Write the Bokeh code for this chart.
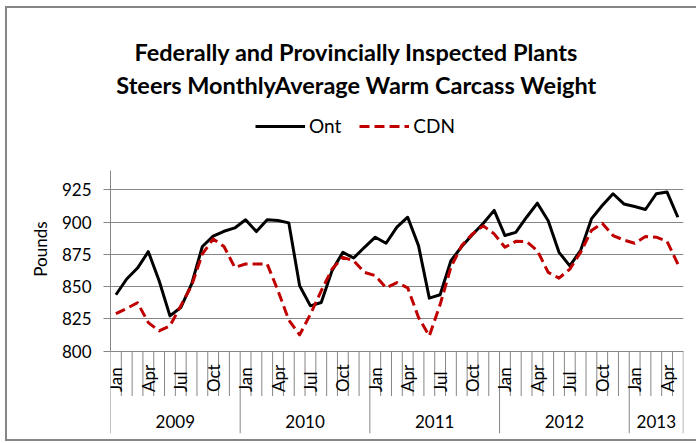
import math
from bokeh.plotting import figure
from bokeh.models import Range1d, FixedTicker, Label, Legend, LegendItem
from bokeh.embed import file_html
from bokeh.resources import INLINE
from bokeh.core.properties import value

# ---------------- data ----------------
title_lines = ["Federally and Provincially Inspected Plants",
               "Steers MonthlyAverage Warm Carcass Weight"]
years = [2009, 2010, 2011, 2012, 2013]
months_per_year = [12, 12, 12, 12, 5]
month_names = ["Jan", "Feb", "Mar", "Apr", "May", "Jun",
               "Jul", "Aug", "Sep", "Oct", "Nov", "Dec"]
shown_months = ["Jan", "Apr", "Jul", "Oct"]
series_names = ["Ont", "CDN"]
ont = [843.6, 855.8, 864.3, 877.0, 854.5, 827.2, 833.7, 851.9, 881.0, 889.0, 892.8, 895.4,
       901.7, 892.6, 901.7, 901.1, 899.3, 850.6, 835.0, 837.6, 862.3, 876.5, 872.1, 880.4,
       888.2, 883.5, 896.0, 903.7, 881.7, 841.0, 843.6, 870.0, 881.0, 890.3, 899.0, 909.0,
       889.5, 892.0, 903.7, 914.6, 901.0, 876.5, 866.0, 878.0, 902.4, 912.8, 921.9, 914.0,
       912.0, 909.7, 921.9, 923.2, 903.7]
cdn = [829.0, 833.0, 837.4, 822.0, 815.6, 819.5, 835.0, 850.6, 875.2, 886.9, 881.0, 864.8,
       867.4, 867.4, 867.4, 846.7, 824.0, 812.5, 828.5, 846.7, 863.5, 872.6, 870.0, 861.0,
       858.4, 849.0, 853.0, 849.0, 826.0, 811.7, 836.0, 865.0, 881.7, 890.8, 897.0, 890.8,
       880.4, 885.0, 884.8, 877.8, 861.0, 856.5, 863.5, 876.5, 893.4, 899.0, 889.5, 886.0,
       883.5, 888.7, 888.2, 885.0, 867.4]
y_ticks = [800, 825, 850, 875, 900, 925]
y_axis_top = 940
y_label = "Pounds"

# ---------------- derived ----------------
months = []
for n in months_per_year:
    months += month_names[:n]
xs = list(range(len(ont)))

FONT = "Lato"
GRAY = "#868686"
RED = "#C00000"

PPU = 1.29                      # pixels per pound
base = y_ticks[0]
y_min = base - 82.5 / PPU       # frame bottom (category axis area)
y_max = base + 350.5 / PPU      # frame top (canvas top)
x_lo, x_hi = -0.5, len(xs) - 0.48

p = figure(width=696, height=443, output_backend="svg", toolbar_location=None,
           x_range=Range1d(x_lo, x_hi), y_range=Range1d(y_min, y_max),
           x_axis_location=None, y_axis_location="left",
           min_border_left=110, min_border_right=13, min_border_top=0, min_border_bottom=10)
p.outline_line_color = None
p.background_fill_alpha = 0
p.border_fill_alpha = 0
p.styles = {"box-shadow": ("inset 5px 0 0 0 #ffffff, inset 0 6px 0 0 #ffffff, "
                           "inset 0 -2px 0 0 #ffffff, inset 7px 0 0 0 #868686, "
                           "inset 0 8px 0 0 #868686, inset 0 -4px 0 0 #868686"),
            "background": "#ffffff"}

for g in p.xgrid:
    g.visible = False
p.ygrid.ticker = FixedTicker(ticks=y_ticks)
p.ygrid.grid_line_color = GRAY
p.ygrid.grid_line_width = 1

ax = p.yaxis[0]
ax.ticker = FixedTicker(ticks=y_ticks)
ax.bounds = (base, y_axis_top)
ax.axis_line_color = GRAY
ax.major_tick_line_color = GRAY
ax.major_tick_in = 0
ax.major_tick_out = 7
ax.minor_tick_in = 0
ax.minor_tick_out = 0
ax.major_label_standoff = 12
ax.major_label_text_font = FONT
ax.major_label_text_font_size = "17px"
ax.major_label_text_color = "black"
# trailing spaces centre the visible word on the plot area (label is centred on the full frame)
ax.axis_label = y_label + "\u2003" * 4 + "\u00a0" * 3
ax.axis_label_text_font = FONT
ax.axis_label_text_font_size = "17px"
ax.axis_label_text_font_style = "normal"
ax.axis_label_text_color = "black"
ax.axis_label_standoff = 8

# ---------- category axis drawn from the data ----------
short_end = base - 45 / PPU
boundaries = [k - 0.5 for k in range(len(xs) + 1)]
year_bounds = [0]
for n in months_per_year:
    year_bounds.append(year_bounds[-1] + n)
year_edges = [b - 0.5 for b in year_bounds]
sb = [b for b in boundaries if b not in year_edges]
p.segment(x0=sb, y0=[base] * len(sb), x1=sb, y1=[short_end] * len(sb),
          line_color=GRAY, line_width=1)
p.segment(x0=year_edges, y0=[base] * len(year_edges), x1=year_edges,
          y1=[y_min] * len(year_edges), line_color=GRAY, line_width=1)

lab_x = [i for i, m in enumerate(months) if m in shown_months]
lab_t = [months[i] for i in lab_x]
p.text(x=lab_x, y=[base - 41 / PPU] * len(lab_x), text=lab_t,
       angle=math.pi / 2, text_align="left", text_baseline="middle",
       text_font=value(FONT), text_font_size="17px", text_color="black")

year_cx = [(year_bounds[i] + year_bounds[i + 1] - 1) / 2 for i in range(len(years))]
p.text(x=year_cx, y=[base - 70 / PPU] * len(years), text=[str(y) for y in years],
       text_align="center", text_baseline="middle",
       text_font=value(FONT), text_font_size="17px", text_color="black")

# ---------- series ----------
r1 = p.line(xs, ont, line_color="black", line_width=3, line_join="round")
r2 = p.line(xs, cdn, line_color=RED, line_width=3, line_dash="10 5", line_join="round")

legend = Legend(items=[LegendItem(label=series_names[0], renderers=[r1]),
                       LegendItem(label=series_names[1], renderers=[r2])],
                orientation="horizontal", location=(145, 296),
                glyph_width=50, glyph_height=20, label_height=20, label_standoff=4,
                spacing=18, padding=0, margin=0, border_line_color=None,
                background_fill_alpha=0, label_text_font=FONT,
                label_text_font_size="19px", label_text_color="black")
p.add_layout(legend)

# ---------- title ----------
title_x = x_lo + (356 - 110) * (x_hi - x_lo) / 573.0
for txt, sy in zip(title_lines, [51, 84]):
    p.add_layout(Label(x=title_x, y=base + (350.5 - sy) / PPU, x_units="data", y_units="data",
                       text=txt, text_align="center", text_baseline="alphabetic",
                       text_font=FONT, text_font_style="bold", text_font_size="23.5px",
                       text_color="black"))

open("out.html", "w").write(file_html(p, INLINE))
